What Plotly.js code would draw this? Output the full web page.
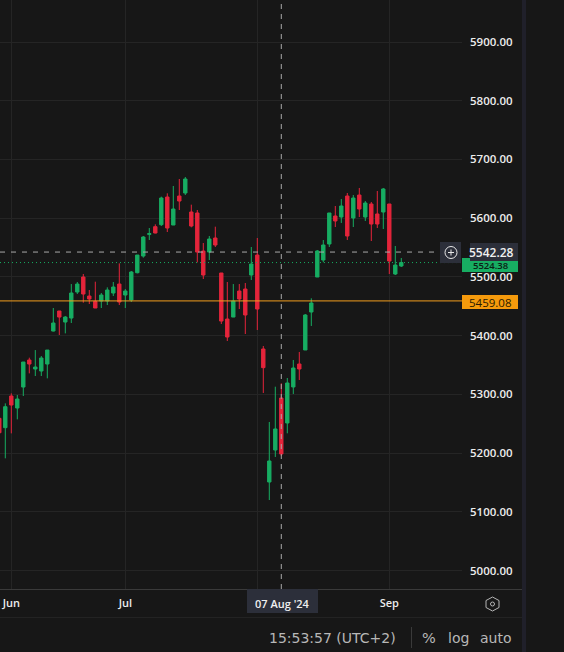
<!DOCTYPE html>
<html><head><meta charset="utf-8">
<script src="https://cdn.plot.ly/plotly-3.0.1.min.js"></script>
<style>html,body{margin:0;padding:0;background:#171717;overflow:hidden}#c{width:564px;height:652px}</style>
</head><body><div id="c"></div>
<script>
const sessions=["30 May","31 May","03 Jun","04 Jun","05 Jun","06 Jun","07 Jun","10 Jun","11 Jun","12 Jun","13 Jun","14 Jun","17 Jun","18 Jun","20 Jun","21 Jun","24 Jun","25 Jun","26 Jun","27 Jun","28 Jun","01 Jul","02 Jul","03 Jul","05 Jul","08 Jul","09 Jul","10 Jul","11 Jul","12 Jul","15 Jul","16 Jul","17 Jul","18 Jul","19 Jul","22 Jul","23 Jul","24 Jul","25 Jul","26 Jul","29 Jul","30 Jul","31 Jul","01 Aug","02 Aug","05 Aug","06 Aug","07 Aug","08 Aug","09 Aug","12 Aug","13 Aug","14 Aug","15 Aug","16 Aug","19 Aug","20 Aug","21 Aug","22 Aug","23 Aug","26 Aug","27 Aug","28 Aug","29 Aug","30 Aug","02 Sep","03 Sep","04 Sep"];
const open=[5259.1,5243.2,5297.1,5276.7,5312.4,5358.4,5343.1,5339.7,5351.6,5407.8,5441.9,5423.1,5429.9,5474.2,5499.8,5467.4,5458.3,5458.9,5458.9,5472.5,5487.8,5469.1,5460.6,5507.1,5535.5,5572.4,5585.5,5588.9,5636,5588.3,5637.7,5642.8,5610.5,5608.8,5544,5542.3,5566.2,5506.6,5428.2,5431.6,5475.9,5479.3,5503.2,5537.2,5377.2,5150.7,5205.2,5293.7,5251.2,5312.5,5351.6,5375.5,5440.2,5499.8,5528.7,5556,5603.7,5602,5637.7,5600.3,5639.4,5602,5624.1,5607.1,5610.5,5624.1,5504.9,5518.5];
const close=[5234.6,5278.9,5281.8,5292,5355,5351.6,5346.5,5361.8,5375.4,5421.4,5431.6,5431.6,5472.5,5487.8,5470.8,5462.3,5447,5469.1,5477.6,5482.7,5457.2,5475.9,5508.3,5537.2,5567.9,5573.6,5574.7,5634.3,5583.2,5615.6,5629.2,5666.7,5586.6,5542.3,5503.2,5564.5,5554.3,5424.8,5397.6,5458.9,5462.3,5435.1,5521.9,5445.3,5345.4,5186.5,5241,5198.4,5319.3,5344.8,5343.1,5435.1,5455.5,5544.1,5554.3,5608.8,5595.2,5620.7,5569.6,5634.3,5615.6,5625.8,5590,5590,5649.7,5527,5520.2,5524.38];
const high=[5267.6,5284.6,5301.6,5298.8,5355,5362.4,5375.4,5365.2,5375.4,5447,5442,5433.3,5487.8,5491.3,5504.9,5477.6,5491.8,5472.5,5482.2,5491.3,5523,5479.3,5510,5537.2,5569.6,5583.2,5589.5,5636.6,5642.3,5654.8,5666.7,5670.1,5623,5613.9,5557.7,5569.6,5585.5,5506.6,5491.3,5487.8,5487.8,5489.6,5550.9,5566.2,5382.3,5252.9,5313,5318.7,5327.8,5358.5,5372.1,5436.8,5463.5,5545.8,5562.8,5608.8,5620.7,5632.6,5642.8,5639.4,5651.4,5629.2,5627.5,5646.3,5651.4,5624.1,5552.6,5532.1];
const low=[5233.5,5191,5233.5,5257.4,5297.1,5335.7,5331.2,5331.2,5327.2,5407,5401,5403.8,5421.4,5470.8,5456,5453.8,5447,5447,5452.1,5467.4,5452.1,5447,5457.2,5506,5532.7,5562.8,5574.1,5586.6,5576.4,5588.3,5613.9,5639.4,5584.4,5524.7,5496.4,5528.7,5550.9,5419.7,5390.8,5431.6,5445.3,5402.7,5494.7,5409.5,5302.3,5120,5193.3,5195,5233.6,5300.6,5324.4,5375.5,5416.4,5499.8,5524.8,5550.9,5584.9,5591.8,5562.8,5584.9,5602,5595.2,5561.1,5583.2,5581.5,5504.9,5503.2,5516.8];
const monthTicks=["03 Jun","01 Jul","01 Aug","02 Sep"];
const monthLabels=["Jun","Jul","","Sep"];
const priceTicks=[5000,5100,5200,5300,5400,5500,5600,5700,5800,5900];
const lastPrice=5524.38, orderPrice=5459.08, crossPrice=5542.28, crossSession="07 Aug";

const W=564,H=652,plotR=462,plotB=589;
const px=v=>v/plotR, py=v=>1-v/plotB;
const up='#17ad62', dn='#e5243b', txt='#ececec';
const FONT='"Open Sans", sans-serif';
const rect=(x0,y0,x1,y1,fill,line)=>({type:'rect',xref:'paper',yref:'paper',x0:px(x0),x1:px(x1),y0:py(y0),y1:py(y1),fillcolor:fill,line:{width:line?1:0,color:line||fill},layer:'above'});
const seg=(x0,y0,x1,y1,color,w,dash)=>({type:'line',xref:'paper',yref:'paper',x0:px(x0),x1:px(x1),y0:py(y0),y1:py(y1),line:{color,width:w||1,dash:dash||'solid'},layer:'above'});
const note=(x,y,text,size,color,anchor,weight,fam)=>({xref:'paper',yref:'paper',x:px(x),y:py(y),text,showarrow:false,xanchor:anchor||'center',yanchor:'middle',font:{size,color,family:fam||FONT,weight:weight||400},borderpad:0});

const trace={type:'candlestick',x:sessions,open,high,low,close,
 increasing:{line:{color:up,width:1},fillcolor:up},
 decreasing:{line:{color:dn,width:1},fillcolor:dn},
 whiskerwidth:0,hoverinfo:'skip'};

const layout={width:W,height:H,margin:{l:0,t:0,r:W-plotR,b:H-plotB,pad:0},
 paper_bgcolor:'#171717',plot_bgcolor:'#171717',showlegend:false,boxgap:0.2,
 font:{family:FONT,color:txt},
 xaxis:{type:'category',categoryorder:'array',categoryarray:sessions,rangeslider:{visible:false},
  range:[0.1167,77.117],tickvals:monthTicks,ticktext:monthLabels,tickfont:{size:11,color:txt,weight:600},
  ticklen:0,ticklabelstandoff:6,showgrid:true,gridcolor:'#252525',gridwidth:1,zeroline:false,showline:false,fixedrange:true},
 yaxis:{side:'right',range:[4968.46,5971.53],tickvals:priceTicks,ticktext:priceTicks.map(v=>v.toFixed(2)),
  tickfont:{size:11.5,color:txt,weight:600},ticklen:0,ticklabelstandoff:7,showgrid:true,gridcolor:'#252525',gridwidth:1,zeroline:false,showline:false,fixedrange:true},
 shapes:[
  {type:'line',xref:'paper',x0:0,x1:1,yref:'y',y0:orderPrice,y1:orderPrice,line:{color:'#f29d1e',width:1},layer:'above'},
  {type:'line',xref:'paper',x0:0,x1:1,yref:'y',y0:lastPrice,y1:lastPrice,line:{color:'#17ad62',width:1,dash:'1px,3px'},layer:'above'},
  {type:'line',xref:'paper',x0:0,x1:1,yref:'y',y0:crossPrice,y1:crossPrice,line:{color:'#a8a8a8',width:1,dash:'5px,6px'},layer:'above'},
  {type:'line',xref:'x',x0:crossSession,x1:crossSession,yref:'paper',y0:0,y1:1,line:{color:'#a8a8a8',width:1,dash:'5px,5px'},layer:'above'},
  seg(0,plotB+0.5,522,plotB+0.5,'#3a3a3a',1),
  seg(0,617.5,522,617.5,'#232323',1),
  rect(522,0,526,652,'#20202a'),
  rect(462,258,518,272,up),
  rect(462,295,518,309,'#f59a0c'),
  rect(470,243,518,261,'#2c2f3a'),
  rect(440,242,461,263,'#2c2f3a'),
  {type:'circle',xref:'paper',yref:'paper',x0:px(445),x1:px(457),y0:py(246.5),y1:py(258.5),line:{color:'#e8e8e8',width:1},layer:'above'},
  seg(448,252.5,454,252.5,'#e8e8e8',1),
  seg(451,249.5,451,255.5,'#e8e8e8',1),
  rect(247,589,318,613,'#2c2f3a'),
  {type:'path',xref:'paper',yref:'paper',path:`M ${px(492.5)} ${py(597)} L ${px(499)} ${py(600.5)} L ${px(499)} ${py(607.5)} L ${px(492.5)} ${py(611)} L ${px(486)} ${py(607.5)} L ${px(486)} ${py(600.5)} Z`,line:{color:'#b5b5b5',width:1},layer:'above'},
  {type:'circle',xref:'paper',yref:'paper',x0:px(490.5),x1:px(494.5),y0:py(602),y1:py(606),line:{color:'#b5b5b5',width:1},layer:'above'},
  seg(411.5,627,411.5,648,'#3a3a3a',1)
 ],
 annotations:[
  note(491,252.5,crossPrice.toFixed(2),12,'#f0f0f0','center',600),
  note(491,265,lastPrice.toFixed(2),9.5,'#0b2015','center',600),
  note(490,302,orderPrice.toFixed(2),11.5,'#2a1a00','center',400),
  note(282,603,"07 Aug '24",11,'#f0f0f0','center',600),
  note(268,637.5,"15:53:57 (UTC+2)",14,'#b8b8b8','left',400,'"DejaVu Sans", sans-serif'),
  note(429,637.5,"%",14.5,'#b8b8b8','center',400,'"DejaVu Sans", sans-serif'),
  note(458,637.5,"log",14,'#b8b8b8','center',400,'"DejaVu Sans", sans-serif'),
  note(496,637.5,"auto",14,'#b8b8b8','center',400,'"DejaVu Sans", sans-serif')
 ]};
Plotly.newPlot('c',[trace],layout,{displayModeBar:false,staticPlot:true});
</script></body></html>
